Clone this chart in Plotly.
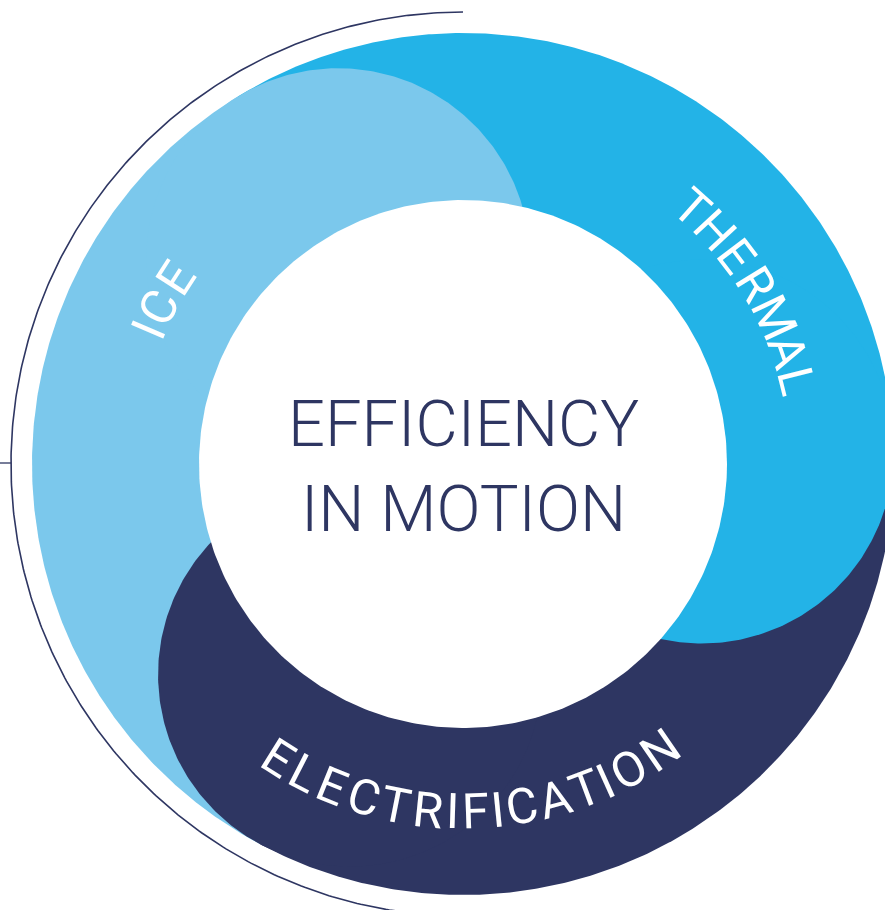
import numpy as np
import plotly.graph_objects as go

# ---------------- data ----------------
segments = ["ICE", "THERMAL", "ELECTRIFICATION"]
segment_colors = ["#7BC8EC", "#23B3E7", "#2E3662"]
cap_angles = [121.5, 3.0, 241.8]          # deg, rounded head of each band
label_angles = [152.0, 31.2, -88.75]      # deg, centre of each label on the ring
label_radius = [342, 343, 348]
title_lines = ["EFFICIENCY", "IN MOTION"]
title_y = [423.5, 508.5]

# ---------------- geometry / style ----------------
W, H = 885, 910
CX, CY = 463.0, 464.0
R_OUT, R_IN = 431.0, 264.0
R_CAP = 192.0
R_LINE = 452.0
NAVY = "#2E3662"
FONT = "Roboto, 'Liberation Sans', Arial, sans-serif"
LABEL_SIZE = 49          # glyph size
ADVANCE_SIZE = 46        # size used for letter advance along the arc
TRACK = 2.0
CHAR_W = {"I": .278, "C": .722, "E": .667, "T": .611, "H": .722, "R": .722,
          "M": .833, "A": .667, "L": .556, "F": .611, "O": .778, "N": .722, " ": .278}


def pt(r, a_deg, cx=CX, cy=CY):
    a = np.radians(a_deg)
    return cx + r * np.cos(a), cy - r * np.sin(a)


fig = go.Figure()

# band sectors
n = len(segments)
for i in range(n):
    a0 = cap_angles[i]
    a1 = cap_angles[i - 1]
    if a1 <= a0:
        a1 += 360
    ang = np.linspace(a0, a1, 300)
    xs, ys = pt(R_OUT, ang)
    xs = np.concatenate([[CX], xs, [CX]])
    ys = np.concatenate([[CY], ys, [CY]])
    fig.add_trace(go.Scatter(x=xs, y=ys, fill="toself", fillcolor=segment_colors[i],
                             line=dict(width=0, color=segment_colors[i]), mode="lines",
                             hoverinfo="skip", showlegend=False))

# rounded heads
t = np.linspace(0, 360, 400)
for i in range(n):
    ccx, ccy = pt(R_OUT - R_CAP, cap_angles[i])
    xs, ys = pt(R_CAP, t, ccx, ccy)
    fig.add_trace(go.Scatter(x=xs, y=ys, fill="toself", fillcolor=segment_colors[i],
                             line=dict(width=0, color=segment_colors[i]), mode="lines",
                             hoverinfo="skip", showlegend=False))

# inner white disc
xs, ys = pt(R_IN, t)
fig.add_trace(go.Scatter(x=xs, y=ys, fill="toself", fillcolor="white",
                         line=dict(width=0, color="white"), mode="lines",
                         hoverinfo="skip", showlegend=False))

# thin outer arc + tick
ang = np.linspace(90, 275, 400)
xs, ys = pt(R_LINE, ang)
fig.add_trace(go.Scatter(x=xs, y=ys, mode="lines", line=dict(color=NAVY, width=1.6),
                         hoverinfo="skip", showlegend=False))
fig.add_trace(go.Scatter(x=[0, CX - R_LINE], y=[CY - 1, CY - 1], mode="lines",
                         line=dict(color=NAVY, width=1.3), hoverinfo="skip", showlegend=False))

annotations = []
# curved labels
for lab, ac, rr in zip(segments, label_angles, label_radius):
    widths = [CHAR_W[c] * ADVANCE_SIZE for c in lab]
    centers = []
    s = 0.0
    for k, w in enumerate(widths):
        centers.append(s + w / 2)
        s += w + TRACK
    mid = (centers[0] + centers[-1]) / 2
    bottom = np.sin(np.radians(ac)) < 0
    for c, sc in zip(lab, centers):
        dang = np.degrees((sc - mid) / rr)
        if bottom:
            a = ac + dang
            rot = -(a + 90)
        else:
            a = ac - dang
            rot = 90 - a
        x, y = pt(rr, a)
        annotations.append(dict(x=x, y=y, xref="x", yref="y", text=c, showarrow=False,
                                textangle=rot, xanchor="center", yanchor="middle",
                                font=dict(family=FONT, size=LABEL_SIZE, color="white", weight=400)))

# centre title
for line, yy in zip(title_lines, title_y):
    annotations.append(dict(x=CX, y=yy, xref="x", yref="y", text=line, showarrow=False,
                            xanchor="center", yanchor="middle",
                            font=dict(family=FONT, size=65, color=NAVY, weight=300)))

fig.update_layout(
    width=W, height=H, margin=dict(l=0, r=0, t=0, b=0),
    paper_bgcolor="white", plot_bgcolor="white",
    xaxis=dict(range=[0, W], visible=False, fixedrange=True),
    yaxis=dict(range=[H, 0], visible=False, fixedrange=True),
    annotations=annotations, showlegend=False,
)
fig.write_html("out.html", config={"displayModeBar": False},
               post_script="document.body.style.margin='0';document.body.style.overflow='hidden';")
